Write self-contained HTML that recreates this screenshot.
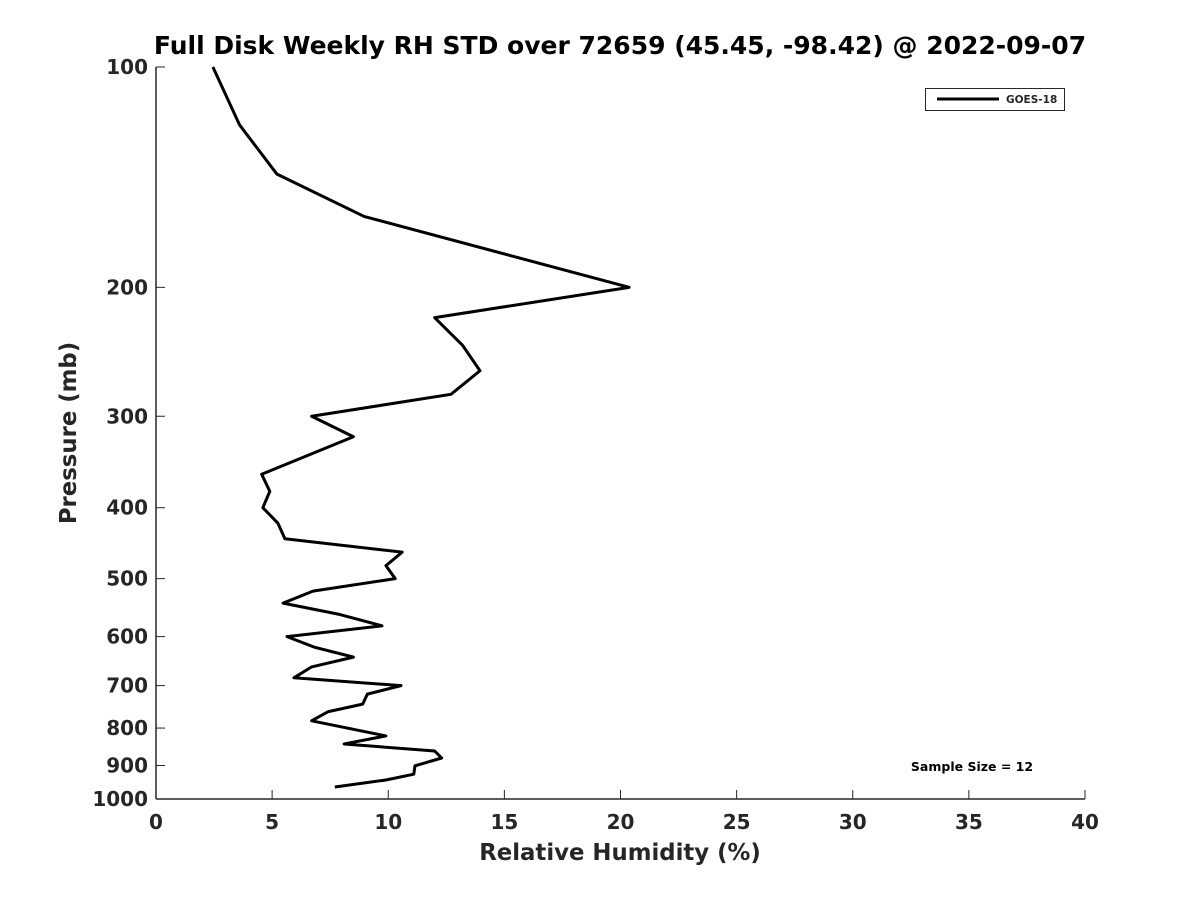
<!DOCTYPE html>
<html><head><meta charset="utf-8"><style>
body{margin:0;background:#fff}
svg text{font-family:"DejaVu Sans","Liberation Sans",sans-serif;font-weight:bold;fill:#262626}
</style></head><body>
<svg width="1200" height="900" viewBox="0 0 1200 900">
<rect width="1200" height="900" fill="#fff"/>
<g id="axes"></g>
<script>
const rhValues=[2.45,3.6,5.2,8.96,20.37,12.0,13.2,13.95,12.7,6.7,8.5,4.55,4.9,4.6,5.25,5.55,10.6,9.9,10.3,6.76,5.47,7.84,9.73,5.64,6.8,8.5,6.7,5.94,10.55,9.1,8.9,7.4,6.7,9.9,8.1,12.0,12.3,11.15,11.1,9.9,7.7];
const pressures=[100,120,140,160,200,220,240,260,280,300,320,360,380,400,420,441,460,480,500,520,540,559,580,600,620,640,660,683,700,719,742,760,782,820,841,860,879,901,925,942,963];
const xTicks=[0,5,10,15,20,25,30,35,40];
const yTicks=[100,200,300,400,500,600,700,800,900,1000];
const X0=156,X1=1085,Y0=67,Y1=799;
const xs=v=>X0+(v-0)/(40-0)*(X1-X0);
const ys=p=>Y0+Math.log10(p/100)*(Y1-Y0);
const NS='http://www.w3.org/2000/svg';
const g=document.getElementById('axes');
function mk(t,a,txt){const e=document.createElementNS(NS,t);for(const k in a)e.setAttribute(k,a[k]);if(txt!==undefined)e.textContent=txt;g.appendChild(e);return e;}
let e;
e=mk('line',{x1:X0,y1:Y1,x2:X1,y2:Y1,stroke:'#262626','stroke-width':1.5});


e=mk('line',{x1:X0,y1:Y0,x2:X0,y2:Y1,stroke:'#262626','stroke-width':1.5});


xTicks.forEach(v=>{
 e=mk('line',{x1:xs(v),y1:Y1,x2:xs(v),y2:Y1-9,stroke:'#262626','stroke-width':1});
 
 
 e=mk('text',{x:xs(v),y:829,'font-size':20,'text-anchor':'middle'},String(v));
 
 
});
yTicks.forEach(p=>{
 e=mk('line',{x1:X0,y1:ys(p),x2:X0+9,y2:ys(p),stroke:'#262626','stroke-width':1});
 
 
 e=mk('text',{x:148,y:ys(p)+7,'font-size':20,'text-anchor':'end'},String(p));
 
 
});
e=mk('polyline',{points:rhValues.map((v,i)=>xs(v)+','+ys(pressures[i])).join(' '),fill:'none',stroke:'#000','stroke-width':3,'stroke-linejoin':'round'});


e=mk('text',{x:620,y:54,'font-size':25,'text-anchor':'middle',style:'fill:#000'},'Full Disk Weekly RH STD over 72659 (45.45, -98.42) @ 2022-09-07');


e=mk('text',{x:620,y:860,'font-size':22.8,'text-anchor':'middle'},'Relative Humidity (%)');


e=mk('text',{x:0,y:0,'font-size':22.8,'text-anchor':'middle',transform:'translate(76,433) rotate(-90)'},'Pressure (mb)');


e=mk('rect',{x:925.5,y:88.5,width:139,height:22,fill:'#fff',stroke:'#262626','stroke-width':1});


e=mk('line',{x1:937,y1:99,x2:999,y2:99,stroke:'#000','stroke-width':3});


e=mk('text',{x:1006,y:103,'font-size':10.5},'GOES-18');


e=mk('text',{x:972,y:771,'font-size':12.5,'text-anchor':'middle',style:'fill:#000'},'Sample Size = 12');


</script>
</svg>
</body></html>
